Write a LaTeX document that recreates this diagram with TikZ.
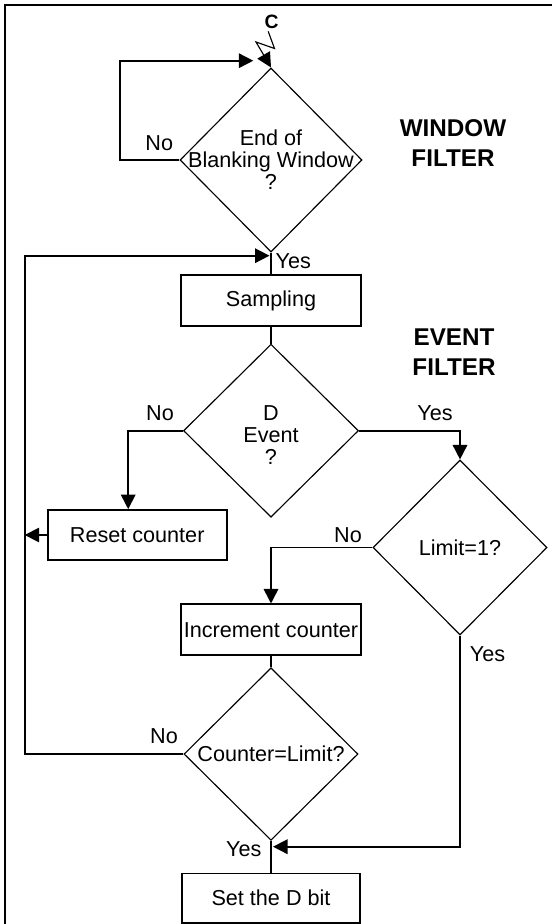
\documentclass[tikz,border=0pt]{standalone}
\usepackage{fontspec}
\setmainfont{Liberation Sans}
\usetikzlibrary{arrows.meta,positioning,shapes.geometric}

\begin{document}
\begin{tikzpicture}[>={Triangle[length=0.29cm,width=0.29cm]},
  font=\fontsize{12.3}{12.5}\selectfont,
  proc/.style={draw,line width=1pt,minimum width=3.6cm,minimum height=1.02cm,inner sep=0pt},
  decision/.style={draw,diamond,line width=0.65pt,inner sep=0pt,minimum width=3.5cm,minimum height=3.46cm},
  flow/.style={line width=0.95pt},
  tag/.style={inner sep=0pt},
  title/.style={font=\fontsize{13.8}{17}\selectfont\bfseries,align=center,inner sep=0pt}]
        \useasboundingbox (0,0) rectangle (11.04,-18.48);
        \draw[line width=1.2pt] (0.1,-18.48) -- (0.1,-0.106) -- (11.04,-0.106);
        % main column
        \node[decision,minimum width=3.64cm,minimum height=3.68cm,label={[align=center]center:End of\\Blanking Window\\?}] (win) at (5.42,-3.2) {};
        \node[proc,below=0.432cm of win] (samp) {Sampling};
        \node[decision,below=0.334cm of samp,label={[align=center,yshift=-0.08cm]center:D\\Event\\?}] (event) {};
        \node[proc,minimum width=3.58cm,minimum height=1cm] (reset) at (2.744,-10.7) {Reset counter};
        \node[decision,minimum width=3.48cm,minimum height=3.5cm,label={center:Limit=1?}] (limit) at (9.2,-10.95) {};
        \node[proc,below=1.714cm of event] (incr) {Increment counter};
        \node[decision,minimum width=3.48cm,minimum height=3.45cm,label={center:Counter=Limit?}] (count) [below=0.22cm of incr] {};
        \node[proc,minimum width=3.57cm,minimum height=0.99cm,below=0.634cm of count] (setd) {Set the D bit};
        % titles and branch tags
        \node[title] (wintitle) at (9.06,-2.854) {WINDOW\\FILTER};
        \node[title] (evtitle) at (9.08,-7.04) {EVENT\\FILTER};
        \node[font=\fontsize{11}{11}\selectfont\bfseries,inner sep=0pt] (conn) at (5.434,-0.434) {C};
        \node[tag] (nowin) at (3.186,-2.854) {No};
        \node[tag] (yeswin) at (5.866,-5.214) {Yes};
        \node[tag] (noevent) at (3.2,-8.26) {No};
        \node[tag] (yesevent) at (8.7,-8.26) {Yes};
        \node[tag] (nolimit) at (6.96,-10.7) {No};
        \node[tag] (yeslimit) at (9.752,-13.08) {Yes};
        \node[tag] (nocount) at (3.28,-14.714) {No};
        \node[tag] (yescount) at (4.876,-16.986) {Yes};
        % free ends
        \coordinate (lx) at (0.494,0);
        \coordinate (loopin) at (5.066,-1.214);
        \coordinate (backin) at (5.39,-5.114);
        \coordinate (setin) at (5.46,-16.934);
        % connectors
        \draw[flow,line width=0.65pt,->] ([xshift=-0.07cm,yshift=-0.05cm]conn.south) -- (5.49,-0.97) -- (5.12,-0.84) -- (win.north);
        \draw[flow,->] (win.west) -- ++(-1.186,0) |- (loopin);
        \draw[flow] (win.south) -- (samp.north);
        \draw[flow] (samp.south) -- (event.north);
        \draw[flow,->] (event.west) -| ([xshift=-0.18cm]reset.north);
        \draw[flow,->] (reset.west) -- (reset.west -| lx);
        \draw[flow,->] (event.east) -| (limit.north);
        \draw[flow,->] (limit.west) -| (incr.north);
        \draw[flow] (incr.south) -- (count.north);
        \draw[flow,->] (count.west) -- (count.west -| lx) |- (backin);
        \draw[flow,->] (limit.south) |- (setin);
        \draw[flow] (count.south) -- (setd.north);
      \end{tikzpicture}
\end{document}
